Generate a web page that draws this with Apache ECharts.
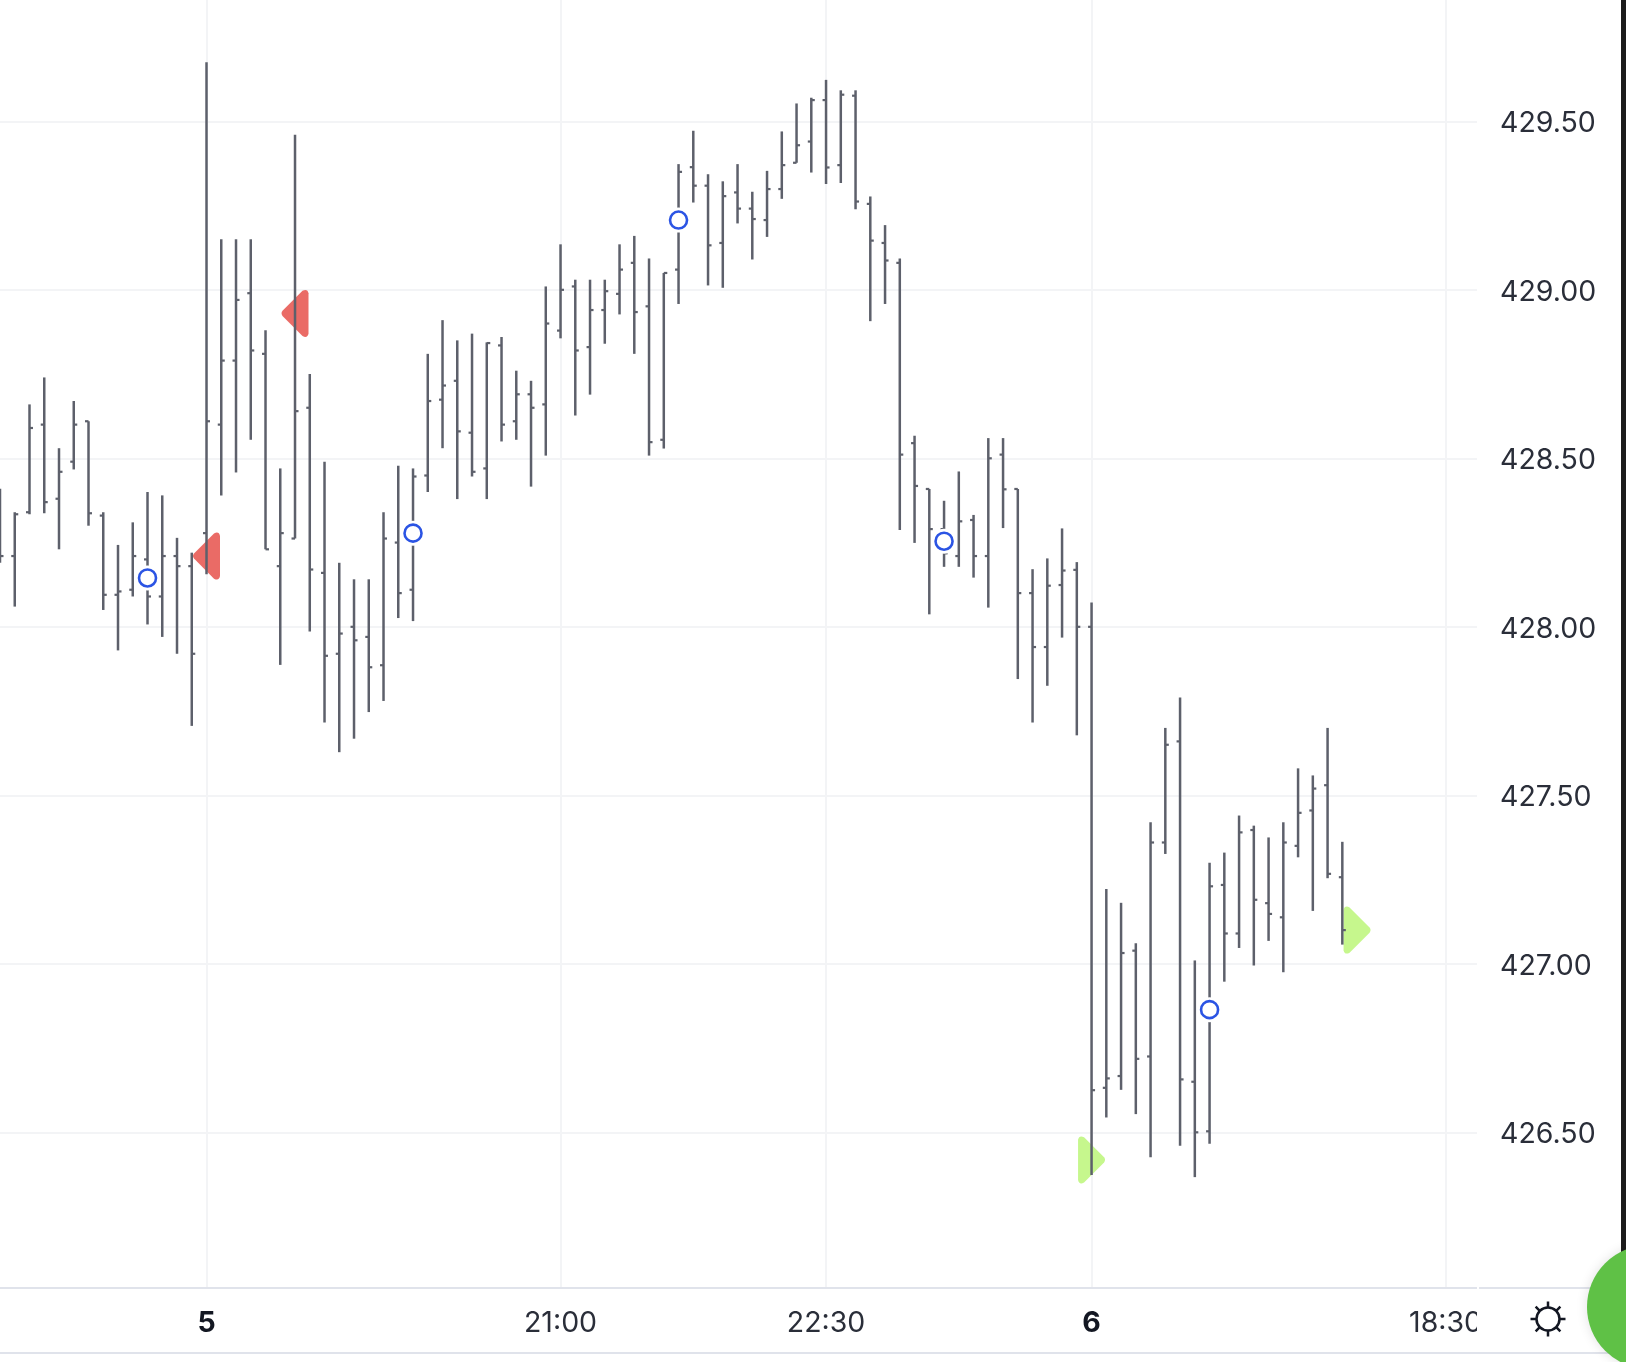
<!DOCTYPE html>
<html><head><meta charset="utf-8">
<style>html,body{margin:0;padding:0;background:#fff;overflow:hidden}#c{width:1626px;height:1362px}</style>
<script src="https://cdn.jsdelivr.net/npm/echarts@6/dist/echarts.min.js"></script>
</head><body><div id="c"></div>
<script>
var opens=[428.30,428.21,428.34,428.60,428.38,428.49,428.61,428.33,428.095,428.11,428.20,428.09,428.21,428.18,428.278,428.60,428.79,428.99,428.81,428.18,428.262,428.65,428.16,427.92,428.00,427.97,427.886,428.25,428.11,428.449,428.674,428.73,428.576,428.47,428.835,428.61,428.69,428.66,428.879,429.01,428.83,428.94,428.988,429.08,428.951,428.555,429.06,429.364,429.309,429.139,429.289,429.241,429.207,429.299,429.377,429.44,429.563,429.37,429.576,429.255,429.139,429.08,428.545,428.409,428.29,428.21,428.317,428.21,428.511,428.409,428.10,427.94,428.124,428.169,428.00,426.632,426.667,427.039,426.725,427.36,427.66,426.65,426.503,427.234,427.09,427.397,427.18,427.138,427.35,427.455,427.53,427.257];
var highs=[428.41,428.34,428.66,428.74,428.53,428.67,428.61,428.34,428.243,428.31,428.40,428.39,428.264,428.22,429.675,429.15,429.15,429.15,428.88,428.47,429.46,428.75,428.49,428.19,428.141,428.141,428.34,428.478,428.47,428.81,428.91,428.85,428.87,428.844,428.86,428.76,428.73,429.01,429.135,429.03,429.03,429.03,429.135,429.16,429.093,429.05,429.373,429.472,429.343,429.322,429.373,429.291,429.353,429.47,429.553,429.57,429.623,429.592,429.592,429.277,429.192,429.093,428.567,428.409,428.374,428.461,428.332,428.56,428.56,428.409,428.171,428.203,428.292,428.192,428.072,427.222,427.181,427.061,427.42,427.70,427.79,427.01,427.30,427.33,427.44,427.41,427.375,427.42,427.58,427.559,427.70,427.362];
var lows=[428.19,428.06,428.334,428.337,428.23,428.467,428.30,428.05,427.93,428.09,428.007,427.97,427.92,427.706,428.156,428.39,428.458,428.555,428.23,427.887,428.262,427.986,427.716,427.628,427.668,427.747,427.78,428.026,428.017,428.40,428.53,428.379,428.446,428.379,428.55,428.555,428.416,428.508,428.856,428.627,428.689,428.84,428.927,428.81,428.508,428.529,428.958,429.259,429.013,429.006,429.197,429.09,429.157,429.27,429.377,429.348,429.314,429.317,429.239,428.907,428.958,428.287,428.249,428.037,428.178,428.178,428.146,428.057,428.293,427.845,427.716,427.825,427.968,427.678,426.373,426.544,426.626,426.554,426.426,427.326,426.46,426.367,426.466,426.947,427.047,426.995,427.068,426.975,427.316,427.157,427.254,427.057];
var closes=[428.21,428.334,428.59,428.37,428.46,428.60,428.337,428.095,428.105,428.21,428.09,428.21,428.18,427.92,428.61,428.79,428.97,428.82,428.23,428.278,428.64,428.17,427.914,427.98,427.96,427.88,428.262,428.10,428.446,428.67,428.716,428.58,428.46,428.842,428.60,428.69,428.65,428.90,429.00,428.82,428.94,428.996,429.06,428.934,428.548,429.05,429.35,429.309,429.132,429.278,429.241,429.21,429.299,429.37,429.429,429.563,429.363,429.579,429.262,429.146,429.087,428.511,428.418,428.29,428.218,428.313,428.21,428.50,428.408,428.10,427.94,428.122,428.167,428.00,426.625,426.66,427.032,426.718,427.36,427.65,426.657,426.50,427.23,427.09,427.39,427.19,427.148,427.36,427.448,427.52,427.267,427.10];
var xTickIndex=[14,38,56,74,98];
var xTickLabels=['5','21:00','22:30','6','18:30'];
var yTicks=[426.5,427,427.5,428,428.5,429,429.5];
var sellX=[14,20], sellY=[428.21,428.93];
var buyX=[74,92], buyY=[426.418,427.10];
var circleX=[10,28,46,64,82], circleY=[428.145,428.278,429.207,428.254,426.864];

function pairs(xs,ys){return xs.map(function(x,i){return [x,ys[i]];});}
var bars=opens.map(function(o,i){return [i,o,highs[i],lows[i],closes[i]];});
var LEFT_TRI='path://M1 21 L21 1.5 Q26 -1 27 4 L27 43 Q26 48 21 45.5 L1 26 Q-1 23.5 1 21 Z';
var RIGHT_TRI='path://M26 21 L6 1.5 Q1 -1 0 4 L0 43 Q1 48 6 45.5 L26 26 Q28 23.5 26 21 Z';
var BAR='#5d606b', TXT='#2a2e39', RULE='#e0e3eb', GRID='#f3f4f6';

var sunCx=1548,sunCy=1319;
var rays=[];
for(var k=0;k<8;k++){
  var a=k*Math.PI/4;
  rays.push({type:'line',z:103,shape:{x1:sunCx+12*Math.cos(a),y1:sunCy+12*Math.sin(a),x2:sunCx+17.5*Math.cos(a),y2:sunCy+17.5*Math.sin(a)},style:{stroke:'#131722',lineWidth:2.5}});
}

var chart=echarts.init(document.getElementById('c'),null,{renderer:'canvas'});
chart.setOption({
  animation:false,
  backgroundColor:'#fff',
  grid:{left:0,right:149,top:0,bottom:74},
  xAxis:{type:'value',min:0,max:100.13,
    axisLine:{show:true,onZero:false,lineStyle:{color:RULE,width:2}},
    axisTick:{show:false,customValues:xTickIndex},
    splitLine:{show:true,lineStyle:{color:GRID,width:2}},
    axisLabel:{customValues:xTickIndex,margin:21,color:TXT,fontFamily:'Inter',fontSize:28.5,hideOverlap:false,
      formatter:function(v){var l=xTickLabels[xTickIndex.indexOf(v)];return l.length===1?'{b|'+l+'}':l;},
      rich:{b:{fontFamily:'Inter',fontSize:28.5,fontWeight:700,color:'#131722'}}}
  },
  yAxis:{type:'value',position:'right',min:426.038,max:429.86,scale:true,
    axisLine:{show:false},
    axisTick:{show:false,customValues:yTicks},
    splitLine:{show:true,lineStyle:{color:GRID,width:2}},
    axisLabel:{customValues:yTicks,margin:23,color:TXT,fontFamily:'Inter',fontSize:28.5,
      formatter:function(v){return '{t|'+v.toFixed(2)+'}';},
      rich:{t:{fontFamily:'Inter',fontSize:28.5,color:TXT,padding:[5,0,0,0]}}}
  },
  series:[
    {type:'scatter',name:'sell',z:2,symbol:LEFT_TRI,symbolSize:[27,47],itemStyle:{color:'#ea6b66',opacity:1},data:pairs(sellX,sellY),silent:true},
    {type:'scatter',name:'buy',z:2,symbol:RIGHT_TRI,symbolSize:[27,47],itemStyle:{color:'#c6f78d',opacity:1},data:pairs(buyX,buyY),silent:true},
    {type:'custom',name:'ohlc',z:3,clip:true,silent:true,
      encode:{x:0,y:[1,2,3,4]},data:bars,
      renderItem:function(params,api){
        var x=api.value(0);
        var o=api.coord([x,api.value(1)]),h=api.coord([x,api.value(2)]),l=api.coord([x,api.value(3)]),c=api.coord([x,api.value(4)]);
        var st={stroke:BAR,lineWidth:2.5,fill:null};
        var tk={stroke:BAR,lineWidth:2.2,fill:null};
        return {type:'group',children:[
          {type:'line',shape:{x1:h[0],y1:h[1],x2:l[0],y2:l[1]},style:st},
          {type:'line',shape:{x1:o[0]-3.5,y1:o[1],x2:o[0],y2:o[1]},style:tk},
          {type:'line',shape:{x1:c[0],y1:c[1],x2:c[0]+3.5,y2:c[1]},style:tk}
        ]};
      }},
    {type:'scatter',name:'halo',z:4,symbol:'circle',symbolSize:25,itemStyle:{color:'#fff',opacity:1},data:pairs(circleX,circleY),silent:true},
    {type:'scatter',name:'signal',z:5,symbol:'circle',symbolSize:17,itemStyle:{color:'#fff',borderColor:'#2b54e4',borderWidth:2.6,opacity:1},data:pairs(circleX,circleY),silent:true}
  ],
  graphic:{elements:[
    {type:'rect',z:100,shape:{x:1477,y:1287,width:149,height:66},style:{fill:'#fff'}},
    {type:'rect',z:101,shape:{x:0,y:1352,width:1626,height:2},style:{fill:RULE}},
    {type:'rect',z:101,shape:{x:1479,y:1287,width:147,height:2},style:{fill:RULE}},
    {type:'rect',z:101,shape:{x:1621,y:0,width:5,height:1270},style:{fill:'#1c1c1c'}},
    {type:'circle',z:102,shape:{cx:1649,cy:1307,r:62},style:{fill:'#5fc146',shadowBlur:12,shadowColor:'rgba(0,0,0,0.12)'}},
    {type:'circle',z:103,shape:{cx:sunCx,cy:sunCy,r:11.5},style:{fill:'#fff',stroke:'#131722',lineWidth:2.5}}
  ].concat(rays)}
});
</script></body></html>
